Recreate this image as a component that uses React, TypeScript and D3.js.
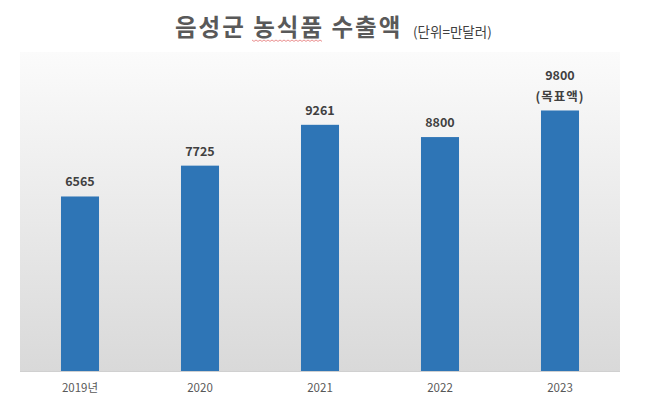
import React from "react";
import * as d3 from "d3";

const categories = ["2019년", "2020", "2021", "2022", "2023"];
const values = [6565, 7725, 9261, 8800, 9800];
const extraLabels = ["", "", "", "", "(목표액)"];
const yMax = 12000;

const W = 648;
const H = 413;
const plot = { left: 20, right: 620, top: 52, bottom: 371 };
const FONT = "'Malgun Gothic', 'Noto Sans CJK KR', 'Noto Sans', sans-serif";

export default function App() {
  const x = d3
    .scaleBand<string>()
    .domain(categories)
    .range([plot.left, plot.right])
    .paddingInner(0.683)
    .paddingOuter(0.3415);
  const y = d3.scaleLinear().domain([0, yMax]).range([plot.bottom, plot.top]);

  // small wavy spell-check underline
  const wave: [number, number][] = [];
  for (let px = 252; px <= 323; px += 2) {
    wave.push([px, 40 + (((px - 252) / 2) % 2 === 0 ? 0 : 1.4)]);
  }
  const waveLine = d3.line()(wave) || "";

  return (
    <svg
      width={W}
      height={H}
      style={{ position: "absolute", left: 0, top: 0, background: "#fff" }}
    >
      <defs>
        <linearGradient id="bg" x1="0" y1="0" x2="0" y2="1">
          <stop offset="0%" stopColor="#fbfbfb" />
          <stop offset="100%" stopColor="#d9d9d9" />
        </linearGradient>
      </defs>
      <rect x={0} y={0} width={W} height={H} fill="#ffffff" />
      <rect
        x={plot.left}
        y={plot.top}
        width={plot.right - plot.left}
        height={plot.bottom - plot.top}
        fill="url(#bg)"
      />
      <line
        x1={plot.left}
        x2={plot.right}
        y1={plot.bottom + 0.5}
        y2={plot.bottom + 0.5}
        stroke="#d0d0d0"
        strokeWidth={1}
      />
      {categories.map((c, i) => (
        <g key={c}>
          <rect
            x={x(c)}
            y={y(values[i])}
            width={x.bandwidth()}
            height={plot.bottom - y(values[i])}
            fill="#2e75b6"
          />
          <text
            x={(x(c) as number) + x.bandwidth() / 2}
            y={y(values[i]) - (extraLabels[i] ? 30 : 10)}
            textAnchor="middle"
            fontFamily={FONT}
            fontWeight="bold"
            fontSize={12.5}
            fill="#404040"
          >
            {values[i]}
          </text>
          {extraLabels[i] && (
            <text
              x={(x(c) as number) + x.bandwidth() / 2}
              y={y(values[i]) - 9}
              textAnchor="middle"
              fontFamily={FONT}
              fontWeight="bold"
              fontSize={12.5}
              letterSpacing={1}
              fill="#404040"
            >
              {extraLabels[i]}
            </text>
          )}
          <text
            x={(x(c) as number) + x.bandwidth() / 2}
            y={392}
            textAnchor="middle"
            fontFamily={FONT}
            fontSize={11.5}
            fill="#595959"
          >
            {c}
          </text>
        </g>
      ))}
      <text
        x={175}
        y={36}
        fontFamily={FONT}
        fontWeight="bold"
        fontSize={23.5}
        letterSpacing={2}
        fill="#595959"
      >
        음성군 농식품 수출액
      </text>
      <path d={waveLine} fill="none" stroke="#e57373" strokeWidth={0.8} />
      <text
        x={413}
        y={37}
        fontFamily={FONT}
        fontSize={13.5}
        fill="#404040"
      >
        (단위=만달러)
      </text>
    </svg>
  );
}
